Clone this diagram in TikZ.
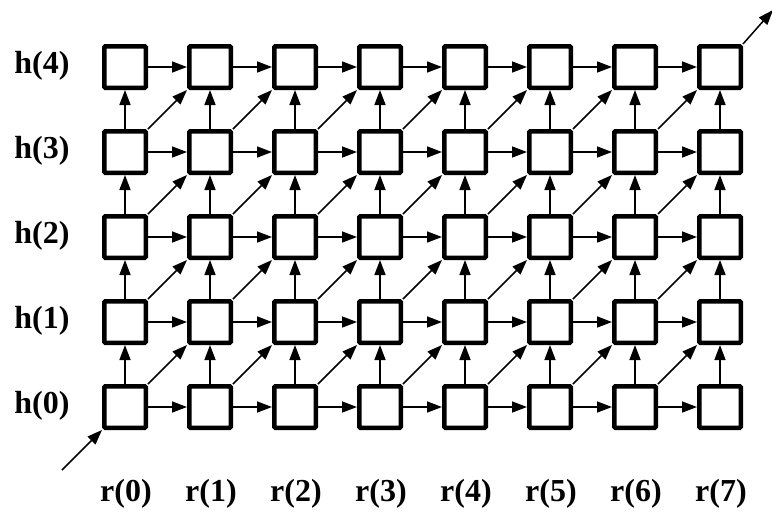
\documentclass[tikz,border=0pt]{standalone}
\usepackage{fontspec}
\setmainfont{Liberation Serif}
\usetikzlibrary{arrows.meta}
\begin{document}
\begin{tikzpicture}[x=1pt,y=-1pt,
  cell/.style={draw,line width=4.5pt,rounded corners=1pt,minimum size=41.5pt,inner sep=0pt},
  conn/.style={line width=1.5pt,-{Triangle[length=15pt,width=11pt]}},
  lab/.style={font=\fontsize{32}{36}\selectfont\bfseries}]
\useasboundingbox (0,0) rectangle (772,512);
\foreach \c in {0,...,7}{
  \foreach \r in {0,...,4}{
    \node[cell] (b\c-\r) at ({125+85*\c},{407-85*\r}) {};
  }
  \node[lab] (r\c) at ({126+85*\c},494) {r(\c)};
}
\foreach \r in {0,...,4}{
  \node[lab] (h\r) at (42,{406-85*\r}) {h(\r)};
}
\foreach \c [count=\n] in {0,...,6}{
  \foreach \r in {0,...,4}{
    \draw[conn] (b\c-\r.east) -- (b\n-\r.west);
  }
}
\foreach \c in {0,...,7}{
  \foreach \r [count=\m] in {0,...,3}{
    \draw[conn] (b\c-\r.north) -- (b\c-\m.south);
  }
}
\foreach \c [count=\n] in {0,...,6}{
  \foreach \r [count=\m] in {0,...,3}{
    \draw[conn] (b\c-\r.north east) -- (b\n-\m.south west);
  }
}
\coordinate (in) at (62,470);
\coordinate (out) at (773,10);
\draw[conn] (in) -- (b0-0.south west);
\draw[conn] (b7-4.north east) -- (out);
\end{tikzpicture}
\end{document}
